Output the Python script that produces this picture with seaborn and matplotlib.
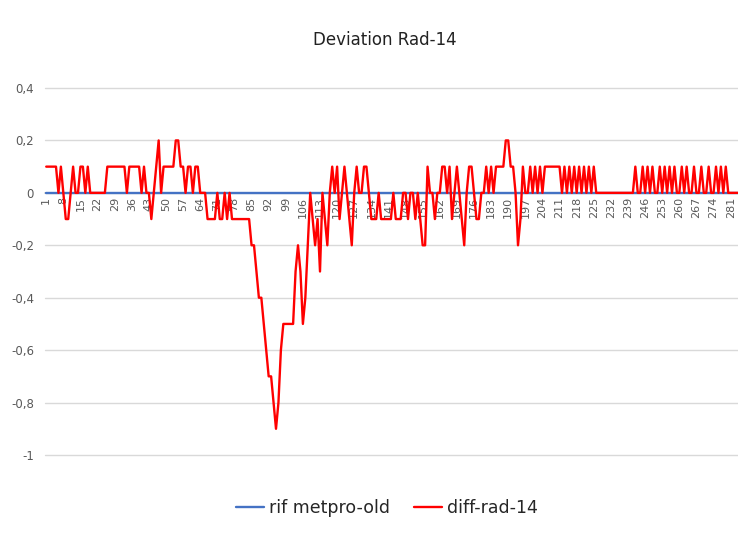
import matplotlib
matplotlib.use("Agg")
import matplotlib.pyplot as plt
import seaborn as sns
import pandas as pd
from matplotlib import font_manager

# ---------------- data ----------------
title = "Deviation Rad-14"
series_names = ["rif metpro-old", "diff-rad-14"]
diff_rad_14 = [
    0.1, 0.1, 0.1, 0.1, 0.1, 0, 0.1, 0, -0.1, -0.1,          # 1-10
    0, 0.1, 0, 0, 0.1, 0.1, 0, 0.1, 0, 0,                     # 11-20
    0, 0, 0, 0, 0, 0.1, 0.1, 0.1, 0.1, 0.1,                   # 21-30
    0.1, 0.1, 0.1, 0, 0.1, 0.1, 0.1, 0.1, 0.1, 0,             # 31-40
    0.1, 0, 0, -0.1, 0, 0.1, 0.2, 0, 0.1, 0.1,                # 41-50
    0.1, 0.1, 0.1, 0.2, 0.2, 0.1, 0.1, 0, 0.1, 0.1,           # 51-60
    0, 0.1, 0.1, 0, 0, 0, -0.1, -0.1, -0.1, -0.1,             # 61-70
    0, -0.1, -0.1, 0, -0.1, 0, -0.1, -0.1, -0.1, -0.1,        # 71-80
    -0.1, -0.1, -0.1, -0.1, -0.2, -0.2, -0.3, -0.4, -0.4, -0.5,  # 81-90
    -0.6, -0.7, -0.7, -0.8, -0.9, -0.8, -0.6, -0.5, -0.5, -0.5,  # 91-100
    -0.5, -0.5, -0.3, -0.2, -0.3, -0.5, -0.4, -0.2, 0, -0.1,     # 101-110
    -0.2, -0.1, -0.3, 0, -0.1, -0.2, 0, 0.1, 0, 0.1,          # 111-120
    -0.1, 0, 0.1, 0, -0.1, -0.2, 0, 0.1, 0, 0,                # 121-130
    0.1, 0.1, 0, -0.1, -0.1, -0.1, 0, -0.1, -0.1, -0.1,       # 131-140
    -0.1, -0.1, 0, -0.1, -0.1, -0.1, 0, 0, -0.1, 0,           # 141-150
    0, -0.1, 0, -0.1, -0.2, -0.2, 0.1, 0, 0, -0.1,            # 151-160
    0, 0, 0.1, 0.1, 0, 0.1, -0.1, 0, 0.1, 0,                  # 161-170
    -0.1, -0.2, 0, 0.1, 0.1, 0, -0.1, -0.1, 0, 0,             # 171-180
    0.1, 0, 0.1, 0, 0.1, 0.1, 0.1, 0.1, 0.2, 0.2,             # 181-190
    0.1, 0.1, 0, -0.2, -0.1, 0.1, 0, 0, 0.1, 0,               # 191-200
    0.1, 0, 0.1, 0, 0.1, 0.1, 0.1, 0.1, 0.1, 0.1,             # 201-210
    0.1, 0, 0.1, 0, 0.1, 0, 0.1, 0, 0.1, 0,                   # 211-220
    0.1, 0, 0.1, 0, 0.1, 0, 0, 0, 0, 0,                       # 221-230
    0, 0, 0, 0, 0, 0, 0, 0, 0, 0,                             # 231-240
    0, 0.1, 0, 0, 0.1, 0, 0.1, 0, 0.1, 0,                     # 241-250
    0, 0.1, 0, 0.1, 0, 0.1, 0, 0.1, 0, 0,                     # 251-260
    0.1, 0, 0.1, 0, 0, 0.1, 0, 0, 0.1, 0,                     # 261-270
    0, 0.1, 0, 0, 0.1, 0, 0.1, 0, 0.1, 0,                     # 271-280
    0, 0, 0, 0,                                               # 281-284
]
rif_metpro_old = [0] * len(diff_rad_14)
categories = list(range(1, len(diff_rad_14) + 1))
x_tick_labels = [str(c) for c in categories[::7]]
y_ticks = [-1, -0.8, -0.6, -0.4, -0.2, 0, 0.2, 0.4]
y_tick_labels = ["-1", "-0,8", "-0,6", "-0,4", "-0,2", "0", "0,2", "0,4"]

df = pd.DataFrame({
    "idx": categories * 2,
    "value": rif_metpro_old + diff_rad_14,
    "series": [series_names[0]] * len(categories) + [series_names[1]] * len(categories),
})

# ---------------- style ----------------
sns.set_theme(style="white")
names = {f.name for f in font_manager.fontManager.ttflist}
fam = "Liberation Sans Narrow" if "Liberation Sans Narrow" in names else "DejaVu Sans"
plt.rcParams["font.family"] = [fam, "DejaVu Sans"]

fig = plt.figure(figsize=(7.38, 5.45), dpi=100)
ax = fig.add_axes([45 / 738, 1 - 455 / 545, 693 / 738, (455 - 88) / 545])

sns.lineplot(data=df, x="idx", y="value", hue="series",
             palette={series_names[0]: "#4472C4", series_names[1]: "#FF0000"},
             linewidth=1.7, ax=ax, legend=True, zorder=3)

# axis line at zero (set before ticks, since it resets tick settings)
ax.spines["bottom"].set_position(("data", 0))
ax.spines["bottom"].set_color("#D9D9D9")
for s in ["left", "right", "top"]:
    ax.spines[s].set_visible(False)

ax.set_xlim(0.5, 284)
ax.set_ylim(-1, 0.4)
ax.set_yticks(y_ticks)
ax.set_yticklabels(y_tick_labels, fontsize=8.5, color="#595959")
ax.yaxis.grid(True, color="#D9D9D9", linewidth=1.0, zorder=0)
for gl in ax.get_ygridlines():
    gl.set_clip_on(False)
ax.tick_params(axis="y", length=0, pad=8)

ax.set_xticks(categories[::7])
ax.set_xticklabels(x_tick_labels, rotation=90, fontsize=8, color="#595959")
ax.tick_params(axis="x", length=0, pad=3, labelrotation=90, labelsize=8)
ax.set_xlabel("")
ax.set_ylabel("")

fig.text(385 / 738, 1 - 40 / 545, title, ha="center", va="center",
         fontsize=12, color="#222222")

handles, labels = ax.get_legend_handles_labels()
ax.legend(handles=handles, labels=labels, loc="center",
          bbox_to_anchor=(387 / 738, 1 - 508 / 545), bbox_transform=fig.transFigure,
          ncol=2, frameon=False, fontsize=12.5, handlelength=1.6,
          columnspacing=1.4, handletextpad=0.3)

fig.savefig("out.png", dpi=100)
